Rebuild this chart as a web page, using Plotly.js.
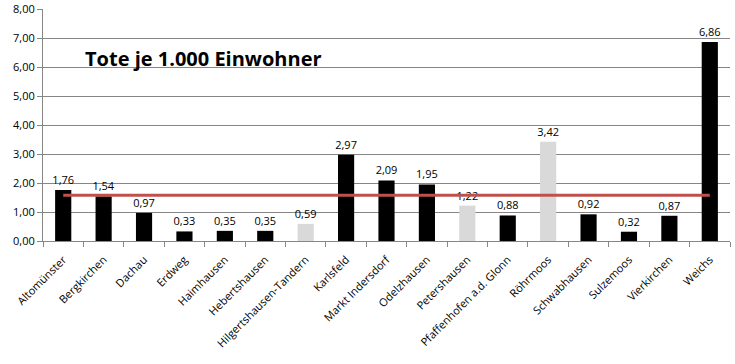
<!DOCTYPE html>
<html>
<head>
<meta charset="utf-8">
<script src="https://cdn.plot.ly/plotly-3.0.1.min.js"></script>
<style>html,body{margin:0;padding:0;background:#fff;}#chart{width:735px;height:364px;}</style>
</head>
<body>
<div id="chart"></div>
<script>
const categories = ["Altomünster","Bergkirchen","Dachau","Erdweg","Haimhausen","Hebertshausen","Hilgertshausen-Tandern","Karlsfeld","Markt Indersdorf","Odelzhausen","Petershausen","Pfaffenhofen a.d. Glonn","Röhrmoos","Schwabhausen","Sulzemoos","Vierkirchen","Weichs"];
const values = [1.76,1.54,0.97,0.33,0.35,0.35,0.59,2.97,2.09,1.95,1.22,0.88,3.42,0.92,0.32,0.87,6.86];
const barColors = ["#000000","#000000","#000000","#000000","#000000","#000000","#D9D9D9","#000000","#000000","#000000","#D9D9D9","#000000","#D9D9D9","#000000","#000000","#000000","#000000"];
const averageX = ["Altomünster","Weichs"];
const averageY = [1.58,1.58];
const yTicks = [0,1,2,3,4,5,6,7,8];
const titleText = "Tote je 1.000 Einwohner";

const font = "Open Sans, Liberation Sans, sans-serif";

const traces = [
  {
    type: "bar",
    x: categories,
    y: values,
    marker: {color: barColors, line: {width: 0}},
    text: values,
    texttemplate: "%{y:.2f}",
    textposition: "outside",
    constraintext: "none",
    cliponaxis: false,
    textfont: {family: font, size: 11, color: "#000"},
    hoverinfo: "none"
  },
  {
    type: "scatter",
    mode: "lines",
    x: averageX,
    y: averageY,
    line: {color: "#C0504D", width: 3},
    hoverinfo: "none"
  }
];

const layout = {
  width: 735,
  height: 364,
  margin: {l: 43, r: 5, t: 9, b: 123},
  paper_bgcolor: "#fff",
  plot_bgcolor: "#fff",
  showlegend: false,
  separators: ",.",
  bargap: 0.6,
  font: {family: font, size: 11, color: "#000"},
  xaxis: {
    type: "category",
    tickangle: -45,
    ticks: "outside",
    ticklen: 5,
    tickcolor: "#868686",
    tickson: "boundaries",
    ticklabelstandoff: 7,
    showline: true,
    linecolor: "#868686",
    linewidth: 1,
    showgrid: false,
    tickfont: {family: font, size: 11, color: "#000"}
  },
  yaxis: {
    range: [0, 8],
    tickvals: yTicks,
    tickformat: ".2f",
    ticks: "outside",
    ticklen: 5,
    tickcolor: "#868686",
    showline: true,
    linecolor: "#868686",
    linewidth: 1,
    showgrid: true,
    gridcolor: "#868686",
    gridwidth: 1,
    zeroline: false,
    tickfont: {family: font, size: 11, color: "#000"}
  },
  annotations: [{
    text: "<b>" + titleText + "</b>",
    xref: "paper", yref: "paper",
    x: 0.058, y: 0.785,
    xanchor: "left", yanchor: "middle",
    showarrow: false,
    font: {family: font, size: 20, color: "#000"}
  }]
};

Plotly.newPlot("chart", traces, layout, {displayModeBar: false, staticPlot: true});
</script>
</body>
</html>
